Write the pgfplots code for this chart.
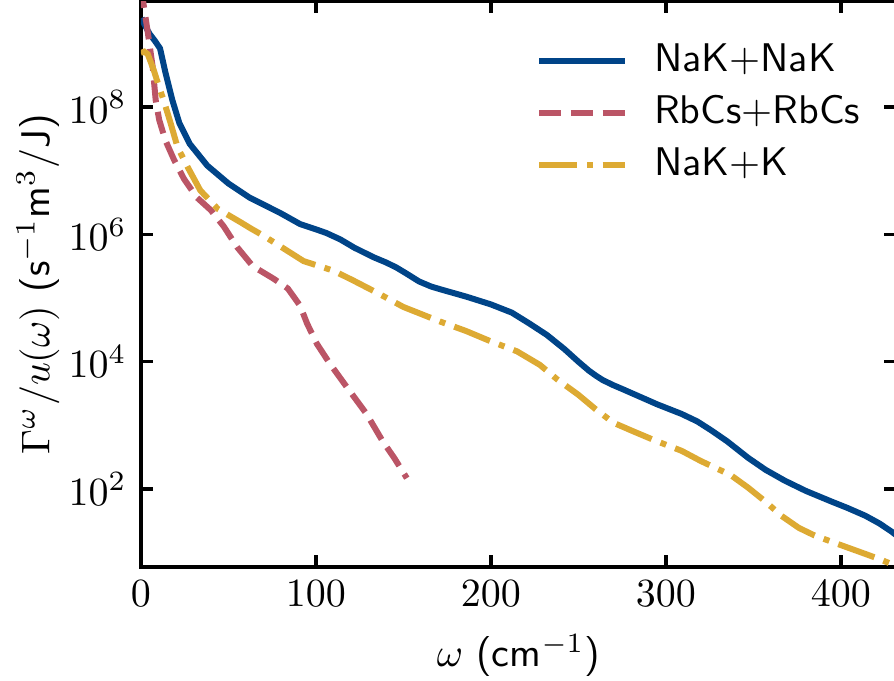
\documentclass[border=0pt]{standalone}
\usepackage{pgfplots}
\pgfplotsset{compat=1.18}
\definecolor{tblue}{HTML}{004488}
\definecolor{tred}{HTML}{BB5566}
\definecolor{tyellow}{HTML}{DDAA33}
\begin{document}
\begin{tikzpicture}
\begin{axis}[
  name=ax,
  scale only axis,
  width=188.8pt, height=141.4pt,
  ymode=log,
  xmin=0, xmax=431.5,
  ymin=5.96, ymax=4.56e9,
  xtick={0,100,200,300,400},
  ytick={1e2,1e4,1e6,1e8},
  minor y tick num=0,
  minor ytick={},
  tick align=inside,
  major tick length=3pt,
  axis line style={line width=0.9pt},
  every tick/.style={black, line width=0.9pt},
  font=\sffamily\fontsize{10}{12}\selectfont,
  xlabel={$\omega$ (cm$^{-1}$)},
  ylabel={$\Gamma^\omega/u(\omega)$ (s$^{-1}$m$^3$/J)},
  ylabel shift=-4.5pt,
  legend style={draw=none, fill=none, at={(0.5064,0.955)}, anchor=north west,
    font=\sffamily\fontsize{10}{12}\selectfont, row sep=0.5pt,
    /tikz/every odd column/.append style={column sep=4.5pt}},
  legend cell align=left,
  legend image code/.code={\draw[#1] (0pt,0pt) -- (21.5pt,0pt);},
]
\addplot[tblue, line width=1.5pt] table {
x y
0.5 2.51e9
2 2.00e9
5 1.41e9
8 1.10e9
11 8.32e8
14 3.55e8
18 1.29e8
22 5.62e7
28 2.63e7
38 1.20e7
50 6.31e6
62 3.80e6
80 2.14e6
91 1.45e6
100 1.20e6
106 1.05e6
114 8.32e5
122 6.17e5
133 4.37e5
140 3.63e5
146 3.02e5
152 2.40e5
159 1.82e5
166 1.51e5
172 1.35e5
186 1.05e5
200 7.94e4
212 5.89e4
222 3.98e4
232 2.63e4
242 1.58e4
250 1.00e4
256 7.24e3
260 6.03e3
264 5.13e3
270 4.27e3
276 3.63e3
281 3.16e3
295 2.14e3
309 1.51e3
318 1.15e3
326 832
335 562
347 309
357 200
368 135
380 93.3
394 64.6
404 50.1
414 38.0
422 28.8
429 21.4
432 18.5
};
\addlegendentry{NaK+NaK}
\addplot[tred, line width=1.5pt, dash pattern=on 5.55pt off 2.4pt] table {
x y
0 8e9
4 1.48e9
6.8 4.27e8
8.5 1.29e8
10.5 6.31e7
14 3.02e7
19 1.48e7
24.7 7.41e6
32 3.80e6
40 2.40e6
47.5 1.32e6
55 6.31e5
64 3.16e5
76 2.00e5
84 1.41e5
91 7.59e4
95 3.98e4
100.6 1.91e4
108 9.33e3
118 3.89e3
129 1.51e3
138 575
145 302
152 148
};
\addlegendentry{RbCs+RbCs}
\addplot[tyellow, line width=1.5pt, dash pattern=on 9.6pt off 2.4pt on 1.5pt off 2.4pt] table {
x y
0 7.08e8
2 7.41e8
4 6.76e8
7.4 3.80e8
10.5 2.04e8
13 1.29e8
17 5.62e7
21 2.34e7
26.7 1.15e7
34 4.90e6
44 2.51e6
57 1.55e6
63 1.23e6
70 9.55e5
81.5 6.03e5
93 3.80e5
110 2.69e5
121 1.91e5
136 1.17e5
150 7.24e4
171 4.27e4
186 3.02e4
199 2.14e4
215 1.45e4
228 8.91e3
238 5.25e3
250 3.02e3
260 1.78e3
270 1.10e3
281 813
294 575
309 398
320 275
337 166
347 105
357 63.1
366 38.0
376 24.5
385 18.6
394 15.1
404 12.0
414 9.55
422 7.94
429 6.61
432 6.2
};
\addlegendentry{NaK+K}
\end{axis}
\pgfresetboundingbox
\path[use as bounding box] ([xshift=-35.2pt, yshift=-28.5pt]ax.south west) rectangle ([xshift=-0.5pt, yshift=0.35pt]ax.north east);
\end{tikzpicture}
\end{document}
